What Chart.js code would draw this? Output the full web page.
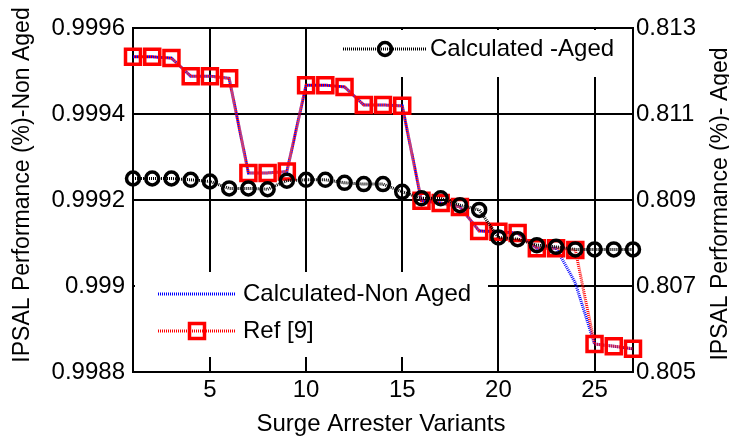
<!DOCTYPE html>
<html>
<head>
<meta charset="utf-8">
<script src="https://cdn.jsdelivr.net/npm/chart.js@4.4.1/dist/chart.umd.min.js"></script>
<style>
  html, body { margin: 0; padding: 0; background: #fff; }
  canvas { display: block; }
</style>
</head>
<body>
<canvas id="chart" width="729" height="439"></canvas>
<script>
// data
const variants = [1, 2, 3, 4, 5, 6, 7, 8, 9, 10, 11, 12, 13, 14, 15, 16, 17, 18, 19, 20, 21, 22, 23, 24, 25, 26, 27];
const calcNonAged = [0.999533, 0.999533, 0.999530, 0.999488, 0.999488, 0.999483, 0.999263, 0.999263, 0.999266,
  0.999467, 0.999467, 0.999463, 0.999421, 0.999421, 0.999419, 0.999198, 0.999193, 0.999184,
  0.999128, 0.999126, 0.999123, 0.999088, 0.999088, 0.999007, 0.998865, 0.998860, 0.998854];
const ref9 = [0.999533, 0.999533, 0.999530, 0.999488, 0.999488, 0.999483, 0.999263, 0.999263, 0.999266,
  0.999467, 0.999467, 0.999463, 0.999421, 0.999421, 0.999419, 0.999198, 0.999193, 0.999184,
  0.999128, 0.999126, 0.999123, 0.999088, 0.999088, 0.999084, 0.998865, 0.998860, 0.998854];
const calcAged = [0.80950, 0.80950, 0.80950, 0.80947, 0.80943, 0.80927, 0.80927, 0.80925, 0.80945,
  0.80947, 0.80947, 0.80940, 0.80937, 0.80937, 0.80919, 0.80904, 0.80904, 0.80888,
  0.80877, 0.80813, 0.80809, 0.80795, 0.80791, 0.80785, 0.80785, 0.80785, 0.80785];

const xTicks = [5, 10, 15, 20, 25];
const leftTicks = [0.9988, 0.999, 0.9992, 0.9994, 0.9996];
const leftTickLabels = ['0.9988', '0.999', '0.9992', '0.9994', '0.9996'];
const rightTicks = [0.805, 0.807, 0.809, 0.811, 0.813];
const rightTickLabels = ['0.805', '0.807', '0.809', '0.811', '0.813'];

const FONT = '"Liberation Sans", Arial, sans-serif';

const pts = arr => variants.map((v, i) => ({ x: v, y: arr[i] }));

// legends + axis titles, drawn by hand like the matlab figure
const extras = {
  id: 'extras',
  beforeDatasetsDraw(chart) {
    const ctx = chart.ctx;
    ctx.save();
    ctx.fillStyle = '#fff';
    ctx.fillRect(336, 30, 296, 47);
    ctx.fillRect(135, 272, 353, 85);
    ctx.restore();
  },
  afterDatasetsDraw(chart) {
    const ctx = chart.ctx;
    ctx.save();
    ctx.lineWidth = 3;

    // Calculated -Aged
    ctx.strokeStyle = '#000';
    ctx.setLineDash([1, 1]);
    ctx.beginPath(); ctx.moveTo(343, 49); ctx.lineTo(427, 49); ctx.stroke();
    ctx.setLineDash([]);
    ctx.lineWidth = 3.5;
    ctx.beginPath(); ctx.arc(385, 49, 6.5, 0, Math.PI * 2); ctx.stroke();
    ctx.lineWidth = 3;

    // Calculated-Non Aged
    ctx.strokeStyle = '#0000ff';
    ctx.setLineDash([1, 1]);
    ctx.beginPath(); ctx.moveTo(158, 294); ctx.lineTo(235, 294); ctx.stroke();

    // Ref [9]
    ctx.strokeStyle = '#ff0000';
    ctx.beginPath(); ctx.moveTo(158, 331); ctx.lineTo(235, 331); ctx.stroke();
    ctx.setLineDash([]);
    ctx.lineWidth = 3.5;
    ctx.strokeRect(197 - 7.5, 331 - 7.5, 15, 15);

    ctx.fillStyle = '#000';
    ctx.font = '24px ' + FONT;
    ctx.textBaseline = 'middle';
    ctx.textAlign = 'left';
    ctx.fillText('Calculated -Aged', 430, 49);
    ctx.fillText('Calculated-Non Aged', 243, 294);
    ctx.fillText('Ref [9]', 243, 331);

    ctx.textAlign = 'center';
    ctx.fillText('Surge Arrester Variants', 381, 424);

    ctx.font = '23px ' + FONT;
    ctx.save();
    ctx.translate(23, 185);
    ctx.rotate(-Math.PI / 2);
    ctx.fillText('IPSAL Performance (%)-Non Aged', 0, 0);
    ctx.restore();
    ctx.save();
    ctx.translate(721, 204);
    ctx.rotate(-Math.PI / 2);
    ctx.fillText('IPSAL Performance (%)- Aged', 0, 0);
    ctx.restore();

    ctx.restore();
  }
};

const tickFont = { family: FONT, size: 24 };

new Chart(document.getElementById('chart'), {
  type: 'line',
  data: {
    datasets: [
      {
        label: 'Calculated -Aged',
        data: pts(calcAged),
        yAxisID: 'y1',
        borderColor: '#000',
        borderWidth: 3,
        borderDash: [1, 1],
        pointStyle: 'circle',
        pointRadius: 6.5,
        pointBorderWidth: 3.5,
        pointBorderColor: '#000',
        pointBackgroundColor: 'rgba(0,0,0,0)',
        tension: 0,
        clip: false
      },
      {
        label: 'Ref [9]',
        data: pts(ref9),
        yAxisID: 'y',
        borderColor: '#ff0000',
        borderWidth: 3,
        borderDash: [1, 1],
        borderDashOffset: 1,
        pointStyle: 'rect',
        pointRadius: 10.6,
        pointBorderWidth: 3.5,
        pointBorderColor: '#ff0000',
        pointBackgroundColor: 'rgba(0,0,0,0)',
        tension: 0,
        clip: false
      },
      {
        label: 'Calculated-Non Aged',
        data: pts(calcNonAged),
        yAxisID: 'y',
        borderColor: '#0000ff',
        borderWidth: 3,
        borderDash: [1, 1],
        pointRadius: 0,
        tension: 0,
        clip: false
      }
    ]
  },
  options: {
    responsive: false,
    devicePixelRatio: 1,
    animation: false,
    layout: { padding: { top: 28, left: 0, right: 0, bottom: 0 } },
    plugins: { legend: { display: false }, tooltip: { enabled: false } },
    scales: {
      x: {
        type: 'linear',
        min: 1,
        max: 27,
        afterBuildTicks: s => { s.ticks = xTicks.map(v => ({ value: v })); },
        afterFit: s => { s.height = 67; },
        grid: { color: '#000', lineWidth: 2, drawTicks: false },
        border: { color: '#000', width: 2 },
        ticks: { color: '#000', font: tickFont, padding: 4, maxRotation: 0, autoSkip: false }
      },
      y: {
        position: 'left',
        min: 0.9988,
        max: 0.9996,
        afterBuildTicks: s => { s.ticks = leftTicks.map(v => ({ value: v })); },
        afterFit: s => { s.width = 133; },
        grid: { color: '#000', lineWidth: 2, drawTicks: false },
        border: { color: '#000', width: 2 },
        ticks: { color: '#000', font: tickFont, padding: 8, callback: (v, i) => leftTickLabels[i] }
      },
      y1: {
        position: 'right',
        min: 0.805,
        max: 0.813,
        afterBuildTicks: s => { s.ticks = rightTicks.map(v => ({ value: v })); },
        afterFit: s => { s.width = 96; },
        grid: { drawOnChartArea: false, drawTicks: false },
        border: { color: '#000', width: 2 },
        ticks: { color: '#000', font: tickFont, padding: 3, callback: (v, i) => rightTickLabels[i] }
      }
    }
  },
  plugins: [extras]
});
</script>
</body>
</html>
